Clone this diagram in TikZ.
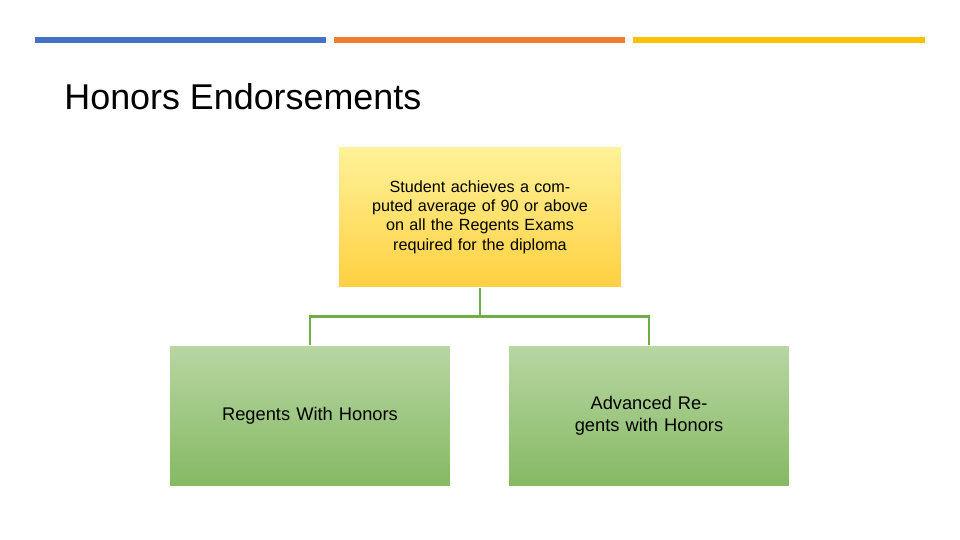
\documentclass[tikz,border=0pt]{standalone}
\usepackage{fontspec}
\setmainfont{Liberation Sans}
\usetikzlibrary{positioning}
\definecolor{barblue}{HTML}{4472C4}
\definecolor{barorange}{HTML}{ED7D31}
\definecolor{bargold}{HTML}{FFC000}
\definecolor{linkgreen}{HTML}{70AD47}
\tikzset{
  topbox/.style={draw=white, line width=0.3pt, minimum width=2.8cm, minimum height=1.4cm,
    text width=2.6cm, align=center, top color=orange!25!yellow!40, bottom color=bargold!75,
    font=\fontsize{4.6}{5.5}\selectfont},
  lowbox/.style={draw=white, line width=0.3pt, minimum width=2.8cm, minimum height=1.4cm,
    text width=2.5cm, align=center, top color=linkgreen!50, bottom color=linkgreen!85,
    font=\fontsize{5.2}{6.2}\selectfont},
  link/.style={draw=linkgreen, line width=0.8pt}
}
\begin{document}
\begin{tikzpicture}[x=0.01cm, y=-0.01cm]
	\useasboundingbox (0,0) rectangle (960,540);
	
	% bars at the top
	\fill[barblue] (35,37) rectangle (326,43);
	\fill[barorange] (334,37) rectangle (625,43);
	\fill[bargold] (633,37) rectangle (925,43);
	
	% title
	\node[anchor=west, font=\fontsize{10.2}{12}\selectfont] (title) at (52,97) {Honors Endorsements};
	
	% boxes
	\node[topbox] (avg) at (480,217) {Student achieves a computed average of 90 or above on all the Regents Exams required for the diploma\\[1.1em]};
	\node[lowbox] (rwh) at (310,416) {Regents With Honors};
	\node[lowbox] (arh) at (649,416) {Advanced Regents with Honors\\[0.3em]};
	
	% connectors
	\draw[link] (avg.south) -- ++(0,29) coordinate (split);
	\draw[link] (rwh.north) |- (split) -| (arh.north);
\end{tikzpicture}
\end{document}
